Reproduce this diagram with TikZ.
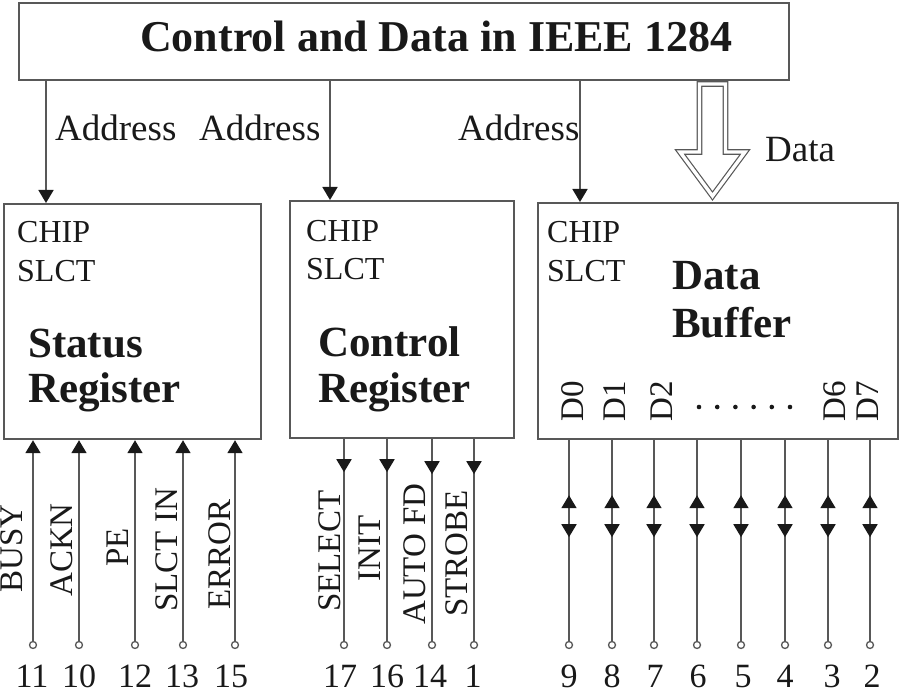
\documentclass[tikz,border=0pt]{standalone}
\usepackage{fontspec}
\setmainfont{Liberation Serif}
\usetikzlibrary{arrows.meta,decorations.markings}
\definecolor{ln}{RGB}{88,88,88}
\definecolor{tx}{RGB}{25,25,25}
\begin{document}
\begin{tikzpicture}[x=1pt,y=-1pt,
  box/.style={draw=ln,line width=2.2pt,fill=white,inner sep=0,anchor=north west},
  wire/.style={draw=ln,line width=1.8pt},
  tipend/.style={-{Triangle[length=13pt,width=15pt,color=tx]}},
  pin/.style={circle,draw=ln,line width=1.3pt,fill=white,inner sep=0,minimum size=7pt},
  lbl/.style={font=\fontsize{33}{33}\selectfont,text=tx,inner sep=0,anchor=base west},
  rlbl/.style={lbl,rotate=90},
  addr/.style={font=\fontsize{37}{37}\selectfont,text=tx,inner sep=0,anchor=base west},
  chip/.style={font=\fontsize{32}{32}\selectfont,text=tx,inner sep=0,anchor=base west},
  bold/.style={font=\fontsize{43}{43}\selectfont\bfseries,text=tx,inner sep=0,anchor=base west},
  num/.style={font=\fontsize{34}{34}\selectfont,text=tx,inner sep=0,anchor=base},
  midtip/.style={postaction={decorate},decoration={markings,
     mark=at position #1 with {\arrow{Triangle[length=13pt,width=15pt,color=tx]}}}},
  bitips/.style={postaction={decorate},decoration={markings,
     mark=at position 55pt with {\arrowreversed{Triangle[length=13pt,width=15pt,color=tx]}},
     mark=at position 97pt with {\arrow{Triangle[length=13pt,width=15pt,color=tx]}}}}
]
\useasboundingbox (0,0) rectangle (900,692);

% boxes
\node[box,minimum width=770pt,minimum height=77pt] (top) at (18,2) {};
\node[box,minimum width=257pt,minimum height=235pt] (status) at (3,203) {};
\node[box,minimum width=224pt,minimum height=237pt] (control) at (289,200) {};
\node[box,minimum width=360pt,minimum height=236pt] (data) at (537,202) {};

\node[font=\fontsize{44}{44}\selectfont\bfseries,text=tx,inner sep=0,anchor=base west] (title) at (140,52) {Control and Data in IEEE 1284};

% address lines
\coordinate (a1) at (46,0);
\coordinate (a2) at (330,0);
\coordinate (a3) at (580,0);
\draw[wire,tipend] (top.south -| a1) -- (status.north -| a1);
\draw[wire,tipend] (top.south -| a2) -- (control.north -| a2);
\draw[wire,tipend] (top.south -| a3) -- (data.north -| a3);
\node[addr] (ad1) at (55,141) {Address};
\node[addr] (ad2) at (199,141) {Address};
\node[addr] (ad3) at (458,141) {Address};

% hollow data arrow
\draw[ln,line width=1.2pt,double=white,double distance=3.4pt,line join=miter]
  (699.5,84) -- (699.5,152) -- (680,152) -- (712.5,196) -- (745,152) -- (725.5,152) -- (725.5,84) -- cycle;
\node[addr] (dl) at (765,162) {Data};

% box texts
\node[chip] (c1a) at (17,243) {CHIP};
\node[chip] (c1b) at (17,282) {SLCT};
\node[chip] (c2a) at (306,242) {CHIP};
\node[chip] (c2b) at (306,280) {SLCT};
\node[chip] (c3a) at (547,243) {CHIP};
\node[chip] (c3b) at (547,282) {SLCT};
\node[bold] (s1) at (28,358) {Status};
\node[bold] (s2) at (28,403) {Register};
\node[bold] (k1) at (318,357) {Control};
\node[bold] (k2) at (318,403) {Register};
\node[bold] (b1) at (672,290) {Data};
\node[bold] (b2) at (672,338) {Buffer};

% D labels
\node[rlbl] (d0) at (583,422) {D0};
\node[rlbl] (d1) at (625,422) {D1};
\node[rlbl] (d2) at (672,422) {D2};
\node[rlbl] (d6) at (845,422) {D6};
\node[rlbl] (d7) at (878,422) {D7};
\foreach \i in {0,...,5} \fill[tx] (699+18.2*\i,407) circle (2.3pt);

% status pins
\foreach \x/\n/\nx in {33/11/32,79/10/79,135/12/135,183/13/182,235/15/231}{
  \node[pin] (p\n) at (\x,645) {};
  \draw[wire,tipend] (p\n) -- (p\n |- status.south);
  \node[num] (n\n) at (\nx,687) {\n};
}
\node[rlbl] (busy) at (23,593) {BUSY};
\node[rlbl] (ackn) at (72,597) {ACKN};
\node[rlbl] (pe) at (128,567) {PE};
\node[rlbl] (slin) at (177,612) {SLCT IN};
\node[rlbl] (err) at (230,610) {ERROR};

% control pins
\foreach \x/\n/\nx/\d in {344/17/340/33pt,387/16/387/33pt,432/14/430/35pt,474/1/473/35pt}{
  \node[pin] (p\n) at (\x,645) {};
  \draw[wire,midtip=\d] (control.south -| p\n) -- (p\n);
  \node[num] (n\n) at (\nx,687) {\n};
}
\node[rlbl] (sel) at (340,612) {SELECT};
\node[rlbl] (init) at (380,582) {INIT};
\node[rlbl] (afd) at (425,625) {AUTO FD};
\node[rlbl] (stb) at (467,617) {STROBE};

% data pins
\foreach \x/\n/\nx in {569/9/569,612/8/612,654/7/655,697/6/698,741/5/743,785/4/785,828/3/832,870/2/872}{
  \node[pin] (p\n) at (\x,645) {};
  \draw[wire,bitips] (data.south -| p\n) -- (p\n);
  \node[num] (n\n) at (\nx,687) {\n};
}
\end{tikzpicture}
\end{document}
